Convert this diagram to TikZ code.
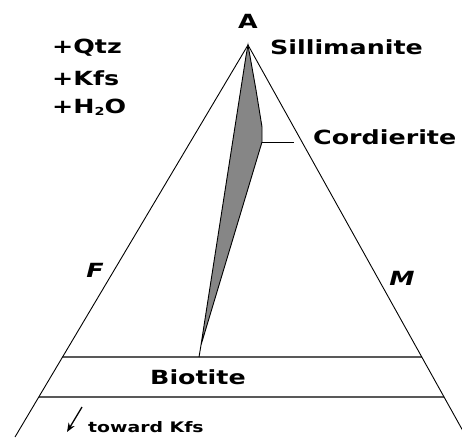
\documentclass[tikz,border=0pt]{standalone}
\usepackage{fontspec}
\setmainfont{DejaVu Sans}
\newfontfamily\lblfont{DejaVu Sans}[FakeStretch=1.3]
\usetikzlibrary{calc,arrows.meta}
\tikzset{
  lbl/.style={font=\lblfont\bfseries\fontsize{19.5}{22}\selectfont, inner sep=0pt},
  corner/.style={font=\lblfont\bfseries\itshape\fontsize{19.5}{22}\selectfont, inner sep=0pt},
  side/.style={line width=0.9pt},
  tieline/.style={line width=1.2pt},
}
\begin{document}
\begin{tikzpicture}[x=1pt,y=-1pt]
    \useasboundingbox (0,0) rectangle (462,440);
    \clip (0,0) rectangle (462,440);
    % triangle corners (bottom ones run off the page)
    \coordinate (A) at (248,45);
    \coordinate (Fb) at (15,437);
    \coordinate (Mb) at (468,440);
    \draw[side] (Fb) -- (A) -- (Mb);
    % biotite band
    \coordinate (bl1) at ($(A)!0.796!(Fb)$);
    \coordinate (br1) at ($(A)!0.790!(Mb)$);
    \coordinate (bl2) at ($(A)!0.898!(Fb)$);
    \coordinate (br2) at ($(A)!0.891!(Mb)$);
    \draw[tieline] (bl1) -- (br1);
    \draw[tieline] (bl2) -- (br2);
    % sil + crd + bt field
    \coordinate (tip) at (201,345);
    \coordinate (crd) at (262,142);
    \coordinate (bt) at (199,357);
    \filldraw[fill=gray!95, draw=black, line width=0.9pt]
        (A) -- (256,90) -- (262,127) -- (crd) -- (tip) -- (246,56) -- cycle;
    \draw[line width=0.9pt] (tip) -- (bt);
    \coordinate (crdend) at (294,142);
    \draw[line width=0.8pt] (crd) -- (crdend);
    % labels
    \node[lbl] (lA) at (248,21) {A};
    \node[lbl, anchor=west] (sil) at (270,47) {Sillimanite};
    \node[lbl, anchor=west] (crdl) at (313,137) {Cordierite};
    \node[lbl, anchor=west] (btl) at (150,377) {Biotite};
    \node[corner] (lF) at (95,270) {F};
    \node[corner] (lM) at (402,278) {M};
    \node[lbl, anchor=west] (qtz) at (52,48) {+Qtz};
    \node[lbl, anchor=west] (kfs) at (52,78) {+Kfs};
    \node[lbl, anchor=west] (h2o) at (52,107) {+H\raisebox{-2pt}{\fontsize{11}{11}\selectfont 2}O};
    \node[lbl, anchor=west, font=\lblfont\bfseries\fontsize{14.5}{17}\selectfont] (kfsdir) at (88,427) {toward Kfs};
    \coordinate (arr) at (82,407);
    \draw[line width=1.3pt, -{Stealth[length=9pt,width=7pt]}] (arr) -- (67,432);
\end{tikzpicture}
\end{document}
